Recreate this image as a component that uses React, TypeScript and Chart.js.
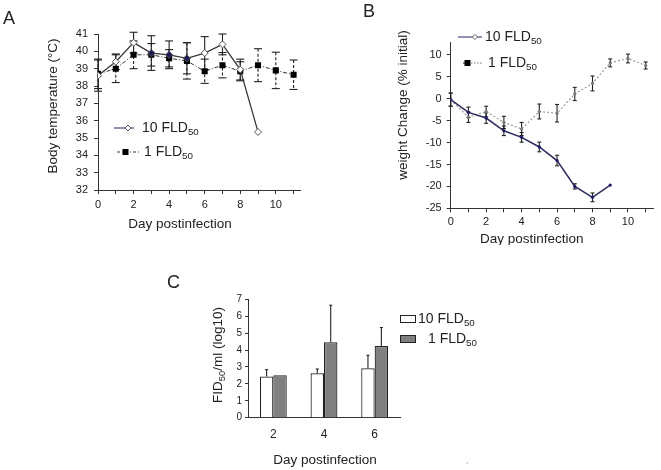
import React, { useEffect, useRef } from 'react';
import { Chart, registerables } from 'chart.js';

Chart.register(...registerables);

const FONT = '"Liberation Sans", Arial, Helvetica, sans-serif';
const INK = '#222';

// ---------- Panel A: body temperature ----------
const DAYS = [0, 1, 2, 3, 4, 5, 6, 7, 8, 9, 10, 11];
const TEMP_10 = [38.6, 39.4, 40.5, 39.9, 39.8, 39.6, 39.9, 40.4, 38.95, 35.35];
const TEMP_10_ERR = [0.9, 0.45, 0.6, 1.0, 0.8, 0.9, 0.95, 0.6, 0.6, 0];
const TEMP_1 = [38.7, 39.0, 39.8, 39.8, 39.6, 39.45, 38.85, 39.2, 38.85, 39.2, 38.9, 38.65];
const TEMP_1_ERR = [0.85, 0.8, 0.8, 0.65, 0.5, 1.05, 0.7, 0.73, 0.55, 0.95, 1.05, 0.85];
const A_Y_TICKS = [32, 33, 34, 35, 36, 37, 38, 39, 40, 41];

// ---------- Panel B: weight change ----------
const WEIGHT_10 = [-0.2, -3.1, -4.4, -7.3, -8.8, -11.0, -14.1, -20.0, -22.5, -19.7];
const WEIGHT_10_ERR = [1.5, 1.2, 1.2, 1.1, 1.1, 1.1, 1.2, 0.6, 1.0, 0];
const WEIGHT_1 = [-0.2, -4.2, -2.9, -5.4, -6.9, -2.9, -3.3, 1.1, 3.5, 8.2, 9.2, 7.6];
const WEIGHT_1_ERR = [1.5, 1.2, 1.2, 1.4, 1.5, 1.7, 2.0, 1.5, 1.7, 0.9, 1.0, 0.8];
const B_Y_TICKS = [-25, -20, -15, -10, -5, 0, 5, 10];

// ---------- Panel C: virus titer ----------
const C_DAYS = ['2', '4', '6'];
const TITER_10 = [2.44, 2.63, 2.92];
const TITER_10_ERR = [0.4, 0.25, 0.77];
const TITER_1 = [2.51, 4.46, 4.24];
const TITER_1_ERR = [0, 2.19, 1.09];
const C_Y_TICKS = [0, 1, 2, 3, 4, 5, 6, 7];

const SERIES = ['10 FLD', '1 FLD'];
const SUB = '50';

type Part = { t: string; sub?: boolean };

function drawRich(ctx: CanvasRenderingContext2D, parts: Part[], x: number, y: number, size: number, align = 'left', rotate = false, color = INK) {
  ctx.save();
  ctx.translate(x, y);
  if (rotate) ctx.rotate(-Math.PI / 2);
  const subSize = size * 0.7;
  let w = 0;
  parts.forEach((p) => {
    ctx.font = `${p.sub ? subSize : size}px ${FONT}`;
    w += ctx.measureText(p.t).width;
  });
  let cx = align === 'center' ? -w / 2 : align === 'right' ? -w : 0;
  ctx.textBaseline = 'middle';
  ctx.textAlign = 'left';
  ctx.fillStyle = color;
  parts.forEach((p) => {
    ctx.font = `${p.sub ? subSize : size}px ${FONT}`;
    ctx.fillText(p.t, cx, p.sub ? size * 0.3 : 0);
    cx += ctx.measureText(p.t).width;
  });
  ctx.restore();
}

function seriesParts(i: number): Part[] {
  return [{ t: SERIES[i] }, { t: SUB, sub: true }];
}

function diamond(ctx: CanvasRenderingContext2D, x: number, y: number, r: number, fill: string, stroke: string) {
  ctx.save();
  ctx.beginPath();
  ctx.moveTo(x, y - r);
  ctx.lineTo(x + r, y);
  ctx.lineTo(x, y + r);
  ctx.lineTo(x - r, y);
  ctx.closePath();
  ctx.fillStyle = fill;
  ctx.fill();
  ctx.strokeStyle = stroke;
  ctx.lineWidth = 1;
  ctx.stroke();
  ctx.restore();
}

function line(ctx: CanvasRenderingContext2D, x1: number, y1: number, x2: number, y2: number, color: string, w: number, dash: number[] = []) {
  ctx.save();
  ctx.strokeStyle = color;
  ctx.lineWidth = w;
  ctx.setLineDash(dash);
  ctx.beginPath();
  ctx.moveTo(x1, y1);
  ctx.lineTo(x2, y2);
  ctx.stroke();
  ctx.restore();
}

type ErrSpec = { ds: number; values: number[]; err: number[]; color: string; width: number; dash?: number[]; cap: number; upOnly?: boolean };

function errorPlugin(id: string, specs: ErrSpec[], after = false) {
  const draw = (chart: any) => {
    const ctx = chart.ctx as CanvasRenderingContext2D;
    const ys = chart.scales.y;
    specs.forEach((sp) => {
      const meta = chart.getDatasetMeta(sp.ds);
      meta.data.forEach((el: any, i: number) => {
        const e = sp.err[i];
        if (!e) return;
        const v = sp.values[i];
        const x = el.x;
        const yTop = ys.getPixelForValue(v + e);
        const yBot = ys.getPixelForValue(sp.upOnly ? v : v - e);
        line(ctx, x, yTop, x, yBot, sp.color, sp.width, sp.dash || []);
        line(ctx, x - sp.cap / 2, yTop, x + sp.cap / 2, yTop, sp.color, sp.width);
        if (!sp.upOnly) line(ctx, x - sp.cap / 2, yBot, x + sp.cap / 2, yBot, sp.color, sp.width);
      });
    });
  };
  return after ? { id, afterDatasetsDraw: draw } : { id, beforeDatasetsDraw: draw };
}

function linAxis(min: number, max: number, ticks: number[], labelFn: (v: number) => string, opts: { x: boolean; fit: number; size: number; tickLen: number; pad: number }) {
  return {
    type: 'linear',
    position: opts.x ? 'bottom' : 'left',
    min,
    max,
    afterBuildTicks: (s: any) => {
      s.ticks = ticks.map((v) => ({ value: v }));
    },
    afterFit: (s: any) => {
      if (opts.x) s.height = opts.fit;
      else s.width = opts.fit;
    },
    ticks: {
      callback: (v: any) => labelFn(Number(v)),
      font: { size: opts.size, family: FONT },
      color: INK,
      padding: opts.pad,
      autoSkip: false,
      maxRotation: 0,
    },
    grid: { display: true, drawOnChartArea: false, drawTicks: true, tickLength: opts.tickLen, color: '#333', lineWidth: 1 },
    border: { display: true, color: '#333', width: 1 },
  };
}

const evenLabel = (v: number) => (v % 2 === 0 ? String(v) : '');

function pts(values: number[]) {
  return values.map((v, i) => ({ x: DAYS[i], y: v }));
}

function configA(): any {
  const overlay = {
    id: 'overlayA',
    afterDraw(chart: any) {
      const ctx = chart.ctx;
      drawRich(ctx, [{ t: 'A' }], 3, 19, 18);
      drawRich(ctx, [{ t: 'Body temperature (°C)' }], 53, 106, 13.5, 'center', true);
      drawRich(ctx, [{ t: 'Day postinfection' }], 180, 224, 13.5, 'center');
      line(ctx, 114, 128, 134, 128, '#55558a', 1.3);
      diamond(ctx, 128, 128, 3, '#fff', '#555');
      drawRich(ctx, seriesParts(0), 142, 128, 14);
      line(ctx, 117, 152, 139, 152, '#333', 1, [3, 2, 1, 2]);
      ctx.fillStyle = '#000';
      ctx.fillRect(122.5, 149, 6, 6);
      drawRich(ctx, seriesParts(1), 144, 152, 14);
    },
  };
  return {
    type: 'line',
    data: {
      datasets: [
        {
          data: pts(TEMP_10),
          borderColor: '#3a3a3a',
          borderWidth: 1.3,
          pointStyle: 'rectRot',
          pointRadius: 3.5,
          pointBorderWidth: 1,
          pointBorderColor: '#555',
          pointBackgroundColor: ['#fff', '#fff', '#fff', '#1a1a5a', '#1a1a5a', '#1a1a5a', '#fff', '#fff', '#fff', '#fff'],
          tension: 0,
        },
        {
          data: pts(TEMP_1),
          borderColor: '#333',
          borderWidth: 1,
          borderDash: [4, 2, 1, 2],
          pointStyle: 'rect',
          pointRadius: 4.3,
          pointBorderWidth: 0,
          pointBackgroundColor: '#000',
          pointBorderColor: '#000',
          tension: 0,
        },
      ],
    },
    options: {
      responsive: false,
      animation: false,
      events: [],
      layout: { padding: { left: 0, top: 34, right: 330 - 300.7, bottom: 0 } },
      plugins: { legend: { display: false }, tooltip: { enabled: false } },
      scales: {
        x: linAxis(0, 11.4, DAYS, evenLabel, { x: true, fit: 245 - 190, size: 11, tickLen: 4, pad: 4.5 }),
        y: linAxis(32, 41, A_Y_TICKS, (v) => String(v), { x: false, fit: 98, size: 11, tickLen: 4, pad: 6 }),
      },
    },
    plugins: [
      errorPlugin('errA', [
        { ds: 0, values: TEMP_10, err: TEMP_10_ERR, color: '#222', width: 1.1, cap: 8 },
        { ds: 1, values: TEMP_1, err: TEMP_1_ERR, color: '#222', width: 1.1, dash: [3, 2], cap: 8 },
      ]),
      overlay,
    ],
  };
}

function configB(): any {
  const overlay = {
    id: 'overlayB',
    afterDraw(chart: any) {
      const ctx = chart.ctx;
      drawRich(ctx, [{ t: 'B' }], 33, 12, 18);
      drawRich(ctx, [{ t: 'weight Change (% initial)' }], 73.5, 105, 13.5, 'center', true);
      drawRich(ctx, [{ t: 'Day postinfection' }], 201.7, 239, 13.5, 'center');
      line(ctx, 128, 37, 152, 37, '#55558a', 1.3);
      diamond(ctx, 145, 37, 2.6, '#fff', '#666');
      drawRich(ctx, seriesParts(0), 155, 37, 14);
      line(ctx, 133, 63, 137, 63, '#333', 1.2);
      line(ctx, 141, 63, 152, 63, '#777', 1, [1.5, 1.5]);
      ctx.fillStyle = '#000';
      ctx.fillRect(134.5, 60, 6, 6);
      drawRich(ctx, seriesParts(1), 158, 63, 14);
    },
  };
  return {
    type: 'line',
    data: {
      datasets: [
        {
          data: pts(WEIGHT_10),
          borderColor: '#2b2b5e',
          borderWidth: 1.5,
          pointStyle: 'circle',
          pointRadius: 1.6,
          pointBorderWidth: 0,
          pointBackgroundColor: '#1c1c6a',
          tension: 0,
        },
        {
          data: pts(WEIGHT_1),
          borderColor: '#9a9a9a',
          borderWidth: 1.2,
          borderDash: [2, 2],
          pointStyle: 'circle',
          pointRadius: 1.6,
          pointBorderWidth: 0,
          pointBackgroundColor: '#777',
          tension: 0,
        },
      ],
    },
    options: {
      responsive: false,
      animation: false,
      events: [],
      layout: { padding: { left: 0, top: 42.7, right: 331 - 323.3, bottom: 0 } },
      plugins: { legend: { display: false }, tooltip: { enabled: false } },
      scales: {
        x: linAxis(0, 11.43, DAYS, evenLabel, { x: true, fit: 245 - 208.3, size: 11, tickLen: 4, pad: 3.5 }),
        y: linAxis(-25, 12.8, B_Y_TICKS, (v) => String(v), { x: false, fit: 120.7, size: 11, tickLen: 4, pad: 5 }),
      },
    },
    plugins: [
      errorPlugin('errB', [
        { ds: 0, values: WEIGHT_10, err: WEIGHT_10_ERR, color: '#222', width: 1.1, cap: 4 },
        { ds: 1, values: WEIGHT_1, err: WEIGHT_1_ERR, color: '#222', width: 1.1, cap: 4 },
      ]),
      overlay,
    ],
  };
}

function configC(): any {
  const overlay = {
    id: 'overlayC',
    afterDraw(chart: any) {
      const ctx = chart.ctx;
      drawRich(ctx, [{ t: 'C' }], 17, 38, 18);
      drawRich(ctx, [{ t: 'FID' }, { t: SUB, sub: true }, { t: '/ml (log10)' }], 68, 110, 13.5, 'center', true);
      drawRich(ctx, [{ t: 'Day postinfection' }], 175, 215, 13.5, 'center');
      ctx.save();
      ctx.strokeStyle = '#222';
      ctx.lineWidth = 1;
      ctx.fillStyle = '#fff';
      ctx.fillRect(250.5, 70.5, 15, 7);
      ctx.strokeRect(250.5, 70.5, 15, 7);
      ctx.fillStyle = '#808080';
      ctx.fillRect(250.5, 90.5, 15, 7);
      ctx.strokeRect(250.5, 90.5, 15, 7);
      ctx.restore();
      drawRich(ctx, seriesParts(0), 268, 74, 14);
      drawRich(ctx, seriesParts(1), 278, 94, 14);
      drawRich(ctx, [{ t: ',' }], 316, 216, 8, 'left', false, '#666');
    },
  };
  return {
    type: 'bar',
    data: {
      labels: C_DAYS,
      datasets: [
        { data: TITER_10, backgroundColor: '#ffffff', borderColor: '#222', borderWidth: 1.2, borderSkipped: 'bottom' },
        { data: TITER_1, backgroundColor: '#808080', borderColor: '#222', borderWidth: 1.2, borderSkipped: 'bottom' },
      ],
    },
    options: {
      responsive: false,
      animation: false,
      events: [],
      datasets: { bar: { barPercentage: 1, categoryPercentage: 0.53 } },
      layout: { padding: { left: 0, top: 54.3, right: 80, bottom: 0 } },
      plugins: { legend: { display: false }, tooltip: { enabled: false } },
      scales: {
        x: {
          type: 'category',
          position: 'bottom',
          afterFit: (s: any) => {
            s.height = 225 - 172.7;
          },
          ticks: { font: { size: 12, family: FONT }, color: INK, padding: 2, maxRotation: 0 },
          grid: { display: false },
          border: { display: true, color: '#333', width: 1 },
        },
        y: linAxis(0, 7, C_Y_TICKS, (v) => String(v), { x: false, fit: 98, size: 10, tickLen: 3, pad: 3 }),
      },
    },
    plugins: [
      errorPlugin(
        'errC',
        [
          { ds: 0, values: TITER_10, err: TITER_10_ERR, color: '#222', width: 1.1, cap: 3, upOnly: true },
          { ds: 1, values: TITER_1, err: TITER_1_ERR, color: '#222', width: 1.1, cap: 3, upOnly: true },
        ],
        true
      ),
      overlay,
    ],
  };
}

function Panel({ left, top, width, height, make }: { left: number; top: number; width: number; height: number; make: () => any }) {
  const ref = useRef<HTMLCanvasElement | null>(null);
  useEffect(() => {
    if (!ref.current) return;
    const chart = new Chart(ref.current, make());
    return () => chart.destroy();
  }, [make]);
  return (
    <canvas
      ref={ref}
      width={width}
      height={height}
      style={{ position: 'absolute', left, top, width, height, display: 'block' }}
    />
  );
}

export default function App() {
  return (
    <div style={{ position: 'absolute', left: 0, top: 0, width: 661, height: 470, background: '#fff', overflow: 'hidden' }}>
      <Panel left={0} top={0} width={330} height={245} make={configA} />
      <Panel left={330} top={0} width={331} height={245} make={configB} />
      <Panel left={150} top={245} width={330} height={225} make={configC} />
    </div>
  );
}
